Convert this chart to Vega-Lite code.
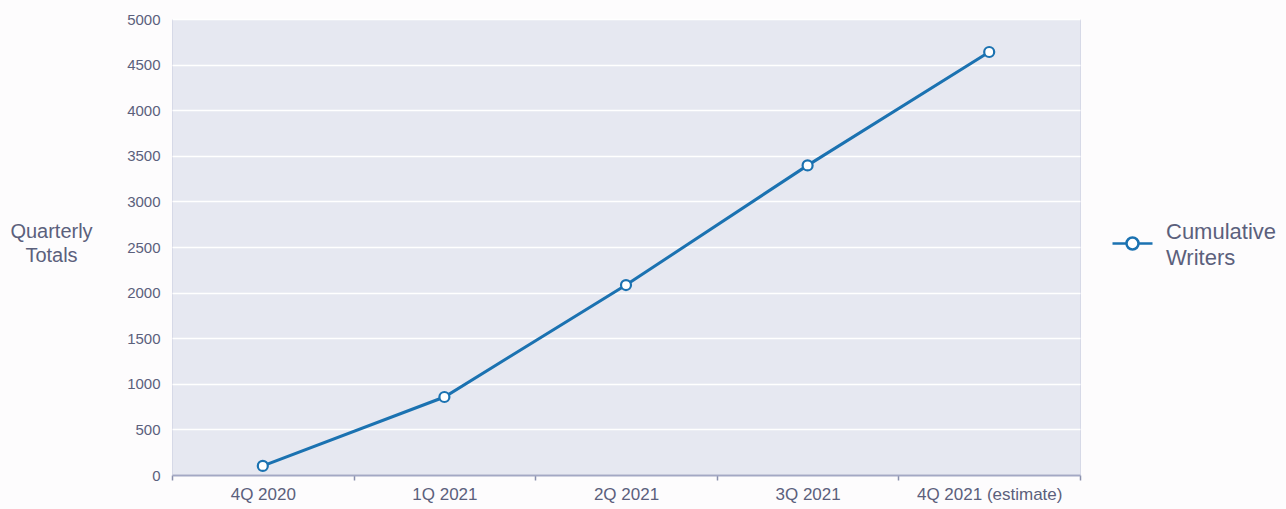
{
  "$schema": "https://vega.github.io/schema/vega-lite/v6.json",
  "autosize": {"type": "none"},
  "width": 908,
  "height": 456,
  "padding": {"left": 172, "top": 19, "right": 206, "bottom": 34},
  "background": "#fdfcfd",
  "config": {
    "font": "Liberation Sans",
    "view": {"fill": "#e6e8f1", "stroke": "#d6d9e7", "strokeWidth": 1}
  },
  "data": {
    "values": [
      {"quarter": "4Q 2020", "value": 100, "series": "Cumulative Writers"},
      {"quarter": "1Q 2021", "value": 855, "series": "Cumulative Writers"},
      {"quarter": "2Q 2021", "value": 2083, "series": "Cumulative Writers"},
      {"quarter": "3Q 2021", "value": 3395, "series": "Cumulative Writers"},
      {"quarter": "4Q 2021 (estimate)", "value": 4638, "series": "Cumulative Writers"}
    ]
  },
  "encoding": {
    "x": {
      "field": "quarter", "type": "nominal", "sort": null,
      "scale": {"paddingInner": 0, "paddingOuter": 0},
      "axis": {
        "title": null, "labelAngle": 0, "labelFontSize": 17, "labelColor": "#5b607c",
        "labelPadding": 6, "tickBand": "extent", "ticks": true, "tickSize": 5,
        "tickColor": "#8a90ad", "tickWidth": 1.5, "domainColor": "#a3a8c4", "domainWidth": 2,
        "grid": false
      }
    },
    "y": {
      "field": "value", "type": "quantitative",
      "scale": {"domain": [0, 5000], "nice": false},
      "axis": {
        "title": ["Quarterly", "Totals"], "titleAngle": 0, "titleX": -121, "titleY": 202,
        "titleFontSize": 20, "titleFontWeight": "normal", "titleColor": "#5b607c",
        "titleAlign": "center", "titleBaseline": "top", "titleLineHeight": 24,
        "values": [0, 500, 1000, 1500, 2000, 2500, 3000, 3500, 4000, 4500, 5000],
        "format": "d",
        "labelFontSize": 15, "labelColor": "#5b607c", "labelPadding": 12,
        "ticks": false, "domain": false, "grid": true, "gridColor": "#ffffff", "gridWidth": 1.5
      }
    },
    "color": {
      "field": "series", "type": "nominal",
      "scale": {"range": ["#1b72b1"]},
      "legend": {
        "title": null, "orient": "none", "legendX": 939, "legendY": 203,
        "symbolType": "M-1,0 L-0.3,0 M0.3,0 A0.3,0.3 0 1 1 -0.3,0 A0.3,0.3 0 1 1 0.3,0 M0.3,0 L1,0",
        "symbolSize": 1600, "symbolStrokeWidth": 2.5, "symbolFillColor": "#ffffff",
        "symbolStrokeColor": "#1b72b1",
        "labelExpr": "['Cumulative', 'Writers']", "labelFontSize": 22, "labelColor": "#5b607c",
        "labelLimit": 300, "labelOffset": 12, "labelBaseline": "middle",
        "encode": {"labels": {"update": {"lineHeight": {"value": 26}, "dy": {"value": -12}}}}
      }
    }
  },
  "layer": [
    {"mark": {"type": "line", "strokeWidth": 3}},
    {"mark": {"type": "point", "filled": false, "fill": "#ffffff", "fillOpacity": 1, "size": 100, "strokeWidth": 2.2, "opacity": 1}}
  ]
}
